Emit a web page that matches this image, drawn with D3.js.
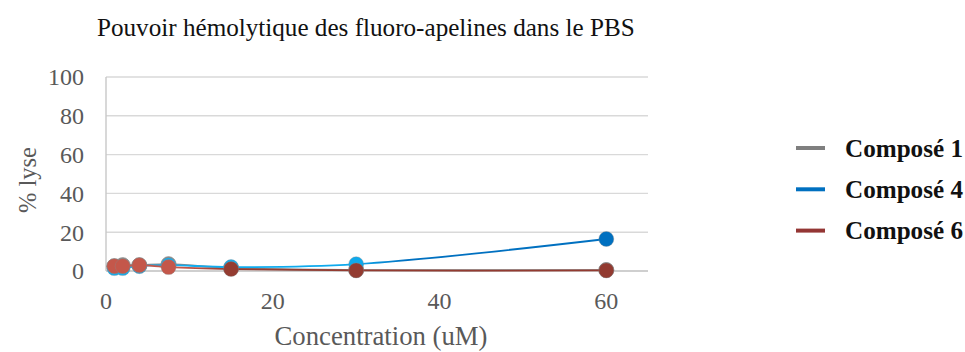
<!DOCTYPE html>
<html>
<head>
<meta charset="utf-8">
<script src="https://cdn.jsdelivr.net/npm/d3@7"></script>
<style>
  html, body { margin: 0; padding: 0; background: #fff; }
  svg { display: block; }
</style>
</head>
<body>
<svg id="chart" width="965" height="352"></svg>
<script>
// Haemolysis (% lyse) versus concentration for three compounds in PBS
const concentrations = [1, 2, 4, 7.5, 15, 30, 60];
const compose1 = [2.5, 3, 3, 3.5, 1.5, 0.5, 0.5];
const compose4 = [1.5, 1.5, 2.5, 3, 2, 3.5, 16.5];
const compose6 = [2.5, 2.5, 3, 2, 1, 0.3, 0.3];
const seriesNames = ["Composé 1", "Composé 4", "Composé 6"];
const xTicks = [0, 20, 40, 60];
const yTicks = [0, 20, 40, 60, 80, 100];

const titleText = "Pouvoir hémolytique des fluoro-apelines dans le PBS";
const xTitle = "Concentration (uM)";
const yTitle = "% lyse";

const FONT = "'Liberation Serif', 'Times New Roman', serif";
const svg = d3.select("#chart");

const x = d3.scaleLinear().domain([0, 65]).range([106, 648]);
const y = d3.scaleLinear().domain([0, 100]).range([271, 77]);

// colour ramps along x, per series (line gradient and marker fill)
const ramps = [
  { stops: [[0, "#8c8c8c"], [65, "#7a7a7a"]], legend: "#7f7f7f" },
  { stops: [[0, "#12aef0"], [30, "#0fa9ec"], [36, "#0070c0"], [65, "#0070c0"]], legend: "#0070c0" },
  { stops: [[0, "#c4574a"], [9, "#c4574a"], [15, "#943c31"], [65, "#923a30"]], legend: "#943634" }
];
function rampColor(r, v) {
  const s = d3.scaleLinear().domain(r.stops.map(d => d[0])).range(r.stops.map(d => d[1]))
    .interpolate(d3.interpolateRgb).clamp(true);
  return s(v);
}

// gridlines
svg.append("g").selectAll("line").data(yTicks.filter(t => t > 0)).join("line")
  .attr("x1", x(0)).attr("x2", x(65))
  .attr("y1", d => y(d)).attr("y2", d => y(d))
  .attr("stroke", "#d9d9d9").attr("stroke-width", 1.4);

// axis lines
svg.append("line").attr("x1", x(0)).attr("x2", x(65)).attr("y1", y(0)).attr("y2", y(0))
  .attr("stroke", "#bfbfbf").attr("stroke-width", 1.6);
svg.append("line").attr("x1", x(0)).attr("x2", x(0)).attr("y1", y(0)).attr("y2", y(100))
  .attr("stroke", "#c8c8c8").attr("stroke-width", 1.4);

// tick labels
svg.append("g").selectAll("text").data(yTicks).join("text")
  .attr("x", 84).attr("y", d => y(d)).attr("dy", "0.35em")
  .attr("text-anchor", "end").attr("font-family", FONT).attr("font-size", 24)
  .attr("fill", "#595959").text(d => d);
svg.append("g").selectAll("text").data(xTicks).join("text")
  .attr("x", d => x(d)).attr("y", 309)
  .attr("text-anchor", "middle").attr("font-family", FONT).attr("font-size", 24)
  .attr("fill", "#595959").text(d => d);

// gradients for the lines
const defs = svg.append("defs");
ramps.forEach((r, i) => {
  const g = defs.append("linearGradient").attr("id", "grad" + i)
    .attr("gradientUnits", "userSpaceOnUse")
    .attr("x1", x(0)).attr("x2", x(65)).attr("y1", 0).attr("y2", 0);
  r.stops.forEach(s => g.append("stop").attr("offset", s[0] / 65).attr("stop-color", s[1]));
});

const allSeries = [compose1, compose4, compose6];
const line = d3.line().x(d => x(d[0])).y(d => y(d[1])).curve(d3.curveCatmullRom.alpha(0.5));

allSeries.forEach((vals, i) => {
  const pts = concentrations.map((c, k) => [c, vals[k]]);
  const g = svg.append("g");
  g.append("path").datum(pts).attr("d", line).attr("fill", "none")
    .attr("stroke", "url(#grad" + i + ")").attr("stroke-width", 1.8);
  g.selectAll("circle").data(pts).join("circle")
    .attr("cx", d => x(d[0])).attr("cy", d => y(d[1])).attr("r", 7.5)
    .attr("fill", d => rampColor(ramps[i], d[0]))
    .attr("stroke", "#8a8a8a").attr("stroke-opacity", i === 0 ? 0.9 : 0.35).attr("stroke-width", 1);
});

// fit a text element's font size to a target width
function fitWidth(sel, width) {
  const n = sel.node();
  const fs = parseFloat(sel.attr("font-size"));
  const w = n.getComputedTextLength();
  if (w > 0) sel.attr("font-size", fs * width / w);
}

// title
const t = svg.append("text").attr("x", 97).attr("y", 36)
  .attr("font-family", FONT).attr("font-size", 24).attr("fill", "#111").text(titleText);
fitWidth(t, 538);

// axis titles
const xt = svg.append("text").attr("x", 381).attr("y", 345).attr("text-anchor", "middle")
  .attr("font-family", FONT).attr("font-size", 26).attr("fill", "#595959").text(xTitle);
fitWidth(xt, 213);
const yt = svg.append("text").attr("transform", "translate(36,180) rotate(-90)")
  .attr("text-anchor", "middle").attr("font-family", FONT).attr("font-size", 26)
  .attr("fill", "#595959").text(yTitle);
fitWidth(yt, 66);

// legend
const lg = svg.append("g").selectAll("g").data(seriesNames).join("g")
  .attr("transform", (d, i) => `translate(796, ${148 + i * 41.3})`);
lg.append("line").attr("x1", 0).attr("x2", 29).attr("y1", 0).attr("y2", 0)
  .attr("stroke", (d, i) => ramps[i].legend).attr("stroke-width", 4);
lg.append("text").attr("x", 49).attr("y", 0).attr("dy", "0.35em")
  .attr("font-family", FONT).attr("font-weight", "bold").attr("font-size", 24)
  .attr("fill", "#111").text(d => d)
  .each(function () { fitWidth(d3.select(this), 118); });
</script>
</body>
</html>
